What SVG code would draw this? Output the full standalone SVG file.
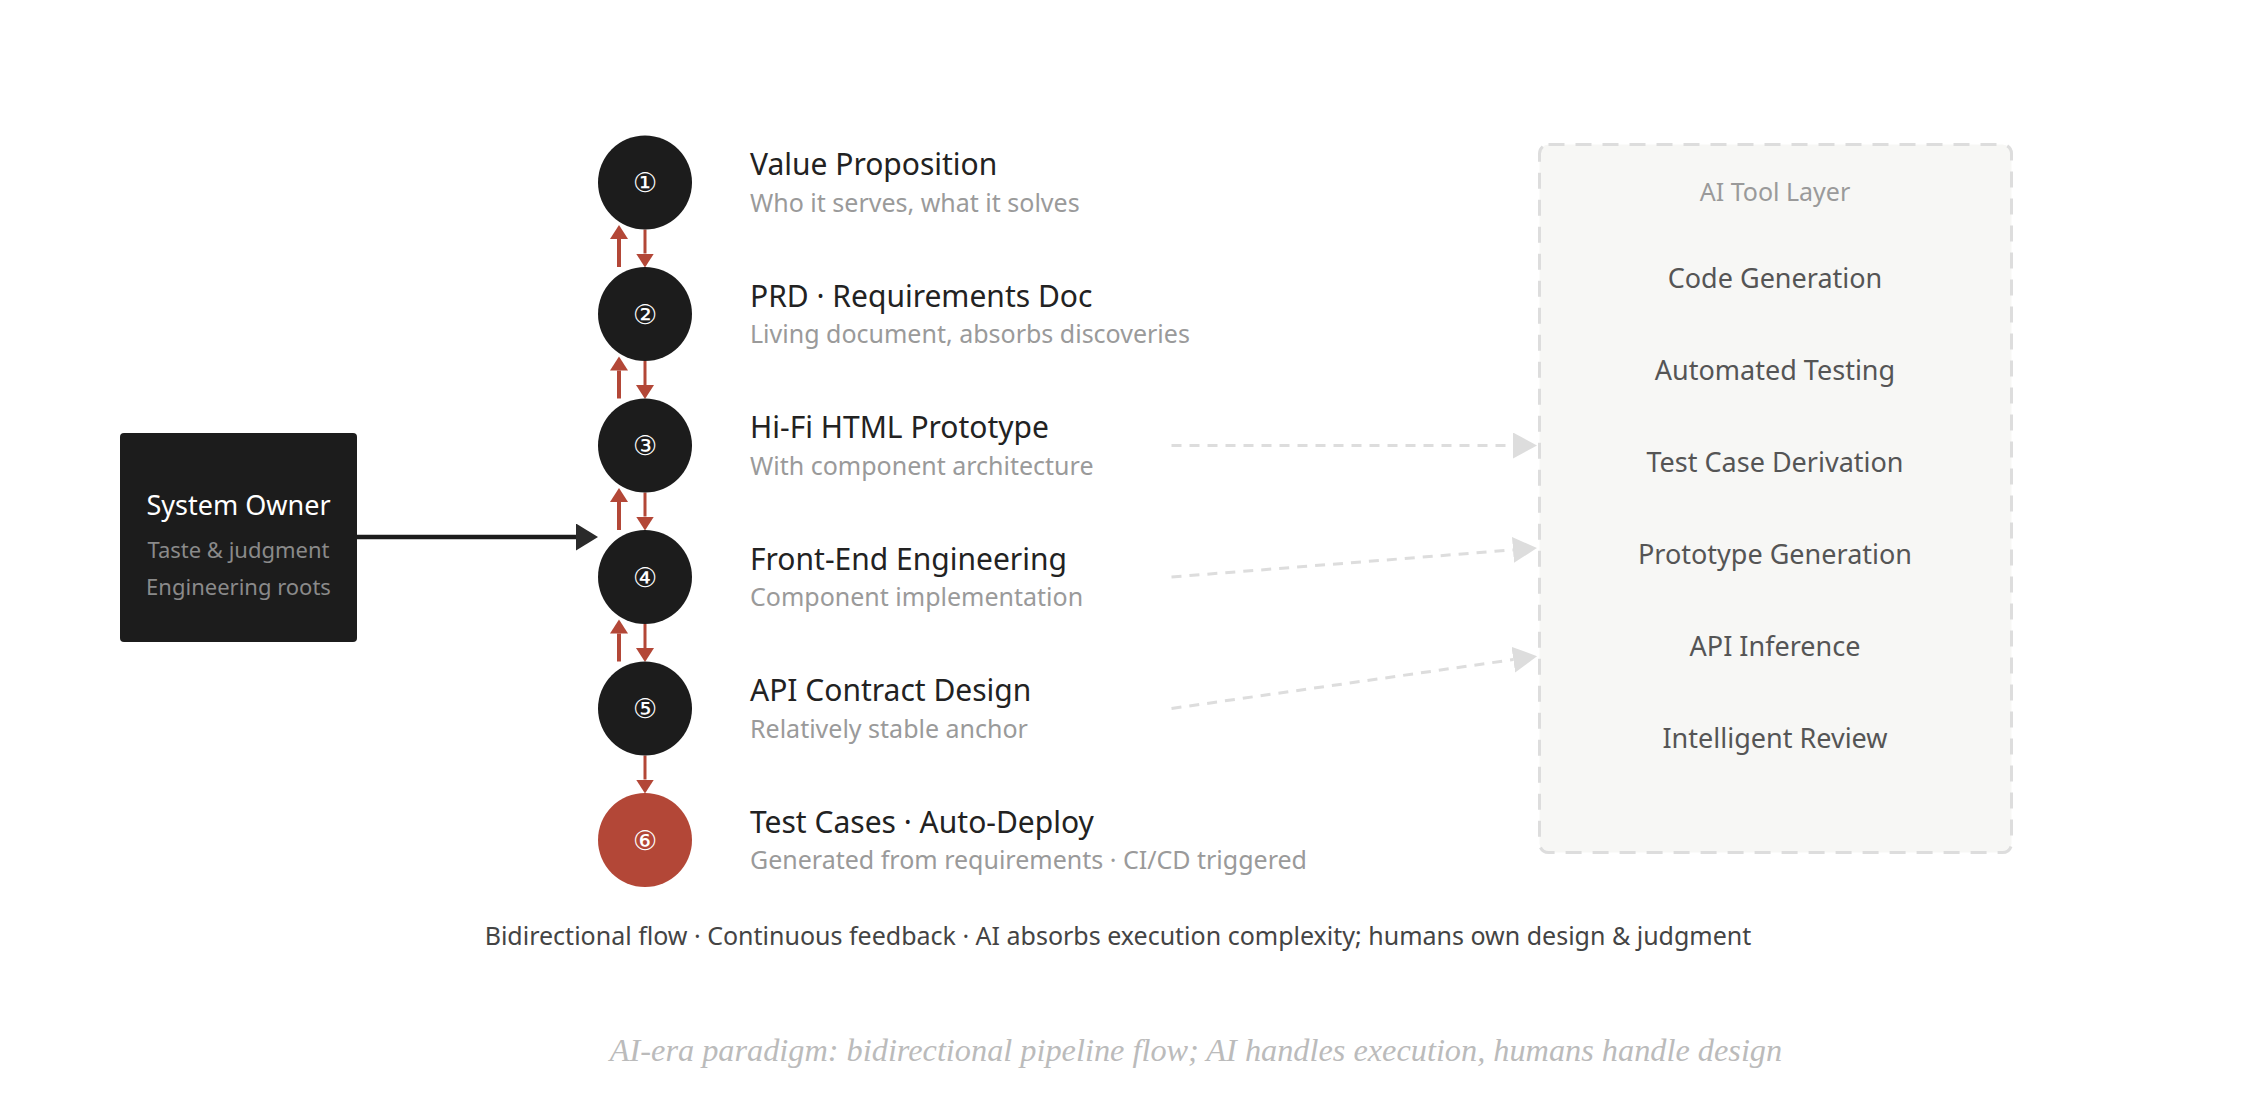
<svg xmlns="http://www.w3.org/2000/svg" width="2254" height="1114" viewBox="0 0 2254 1114">
<defs>
<style>
.title{font-family:"Noto Sans","Open Sans",sans-serif;font-size:30px;fill:#222}
.sub{font-family:"Noto Sans","Open Sans",sans-serif;font-size:25px;fill:#9a9a9a}
.num{font-family:"DejaVu Sans",sans-serif;font-size:27px;fill:#fff;text-anchor:middle}
.circ{fill:#1c1c1c}
.ai{font-family:"Noto Sans","Open Sans",sans-serif;font-size:27px;fill:#555;text-anchor:middle}
.red{stroke:#b34737;fill:none}
.dash{stroke:#dddddd;stroke-width:3;stroke-dasharray:10 8;fill:none}
</style>
<marker id="redHead" markerUnits="userSpaceOnUse" markerWidth="16" markerHeight="20" refX="0" refY="9" orient="auto" viewBox="0 0 16 20">
<path d="M0,0 L14,9 L0,18 z" fill="#b34737"/>
</marker>
<marker id="blackHead" markerUnits="userSpaceOnUse" markerWidth="24" markerHeight="28" refX="0" refY="13.5" orient="auto" viewBox="0 0 24 28">
<path d="M0,0 L22,13.5 L0,27 z" fill="#2a2a2a"/>
</marker>
<marker id="grayHead" markerUnits="userSpaceOnUse" markerWidth="26" markerHeight="28" refX="0" refY="13" orient="auto" viewBox="0 0 26 28">
<path d="M0,0 L24,13 L0,26 z" fill="#dddddd"/>
</marker>
</defs>
<rect width="2254" height="1114" fill="#ffffff"/>

<g id="ai-tool-layer">
<rect x="1539.5" y="144.5" width="472" height="708" rx="9" fill="#f7f7f5" stroke="#dddddd" stroke-width="3" stroke-dasharray="16 11"/>
<text x="1775" y="201" font-family="Noto Sans, sans-serif" font-size="25" fill="#9a9a9a" text-anchor="middle">AI Tool Layer</text>
<text class="ai" x="1775" y="288">Code Generation</text>
<text class="ai" x="1775" y="380">Automated Testing</text>
<text class="ai" x="1775" y="472">Test Case Derivation</text>
<text class="ai" x="1775" y="564">Prototype Generation</text>
<text class="ai" x="1775" y="656">API Inference</text>
<text class="ai" x="1775" y="748">Intelligent Review</text>
</g>

<g id="connectors">
<line x1="357" y1="537" x2="576" y2="537" stroke="#1c1c1c" stroke-width="4.5" marker-end="url(#blackHead)"/>
<line class="red" stroke-width="3" x1="645" y1="229.5" x2="645" y2="253.5" marker-end="url(#redHead)"/>
<line class="red" stroke-width="4" x1="619" y1="267" x2="619" y2="239" marker-end="url(#redHead)"/>
<line class="red" stroke-width="3" x1="645" y1="361" x2="645" y2="385" marker-end="url(#redHead)"/>
<line class="red" stroke-width="4" x1="619" y1="398.5" x2="619" y2="370.5" marker-end="url(#redHead)"/>
<line class="red" stroke-width="3" x1="645" y1="492.5" x2="645" y2="516.5" marker-end="url(#redHead)"/>
<line class="red" stroke-width="4" x1="619" y1="530" x2="619" y2="502" marker-end="url(#redHead)"/>
<line class="red" stroke-width="3" x1="645" y1="624" x2="645" y2="648" marker-end="url(#redHead)"/>
<line class="red" stroke-width="4" x1="619" y1="661.5" x2="619" y2="633.5" marker-end="url(#redHead)"/>
<line class="red" stroke-width="3" x1="645" y1="755.5" x2="645" y2="779.5" marker-end="url(#redHead)"/>
<line class="dash" x1="1171.5" y1="445.5" x2="1513" y2="445.5" marker-end="url(#grayHead)"/>
<line class="dash" x1="1171.5" y1="577" x2="1513" y2="549.9" marker-end="url(#grayHead)"/>
<line class="dash" x1="1171.5" y1="708.5" x2="1513.3" y2="659.6" marker-end="url(#grayHead)"/>
</g>

<g id="system-owner">
<rect x="120" y="433" width="237" height="209" rx="4" fill="#1c1c1c"/>
<text x="238.5" y="515" font-family="Noto Sans, sans-serif" font-size="27" fill="#ffffff" text-anchor="middle">System Owner</text>
<text x="238.5" y="558" font-family="Noto Sans, sans-serif" font-size="22" fill="#8a8a8a" text-anchor="middle">Taste &amp; judgment</text>
<text x="238.5" y="595" font-family="Noto Sans, sans-serif" font-size="22" fill="#8a8a8a" text-anchor="middle">Engineering roots</text>
</g>

<g id="step-1">
<circle class="circ" cx="645" cy="182.5" r="47"/>
<text class="num" x="645" y="182.5" dominant-baseline="central">①</text>
<text class="title" x="750" y="175">Value Proposition</text>
<text class="sub" x="750" y="211.5">Who it serves, what it solves</text>
</g>
<g id="step-2">
<circle class="circ" cx="645" cy="314" r="47"/>
<text class="num" x="645" y="314" dominant-baseline="central">②</text>
<text class="title" x="750" y="306.5">PRD · Requirements Doc</text>
<text class="sub" x="750" y="343">Living document, absorbs discoveries</text>
</g>
<g id="step-3">
<circle class="circ" cx="645" cy="445.5" r="47"/>
<text class="num" x="645" y="445.5" dominant-baseline="central">③</text>
<text class="title" x="750" y="438">Hi-Fi HTML Prototype</text>
<text class="sub" x="750" y="474.5">With component architecture</text>
</g>
<g id="step-4">
<circle class="circ" cx="645" cy="577" r="47"/>
<text class="num" x="645" y="577" dominant-baseline="central">④</text>
<text class="title" x="750" y="569.5">Front-End Engineering</text>
<text class="sub" x="750" y="606">Component implementation</text>
</g>
<g id="step-5">
<circle class="circ" cx="645" cy="708.5" r="47"/>
<text class="num" x="645" y="708.5" dominant-baseline="central">⑤</text>
<text class="title" x="750" y="701">API Contract Design</text>
<text class="sub" x="750" y="737.5">Relatively stable anchor</text>
</g>
<g id="step-6">
<circle cx="645" cy="840" r="47" fill="#b34737"/>
<text class="num" x="645" y="840" dominant-baseline="central">⑥</text>
<text class="title" x="750" y="832.5">Test Cases · Auto-Deploy</text>
<text class="sub" x="750" y="869">Generated from requirements · CI/CD triggered</text>
</g>

<text x="1118" y="945" font-family="Noto Sans, sans-serif" font-size="25" fill="#444" text-anchor="middle">Bidirectional flow · Continuous feedback · AI absorbs execution complexity; humans own design &amp; judgment</text>
<text x="1196" y="1061" font-family="Liberation Serif, serif" font-style="italic" font-size="32.3" fill="#bbbbbb" text-anchor="middle">AI-era paradigm: bidirectional pipeline flow; AI handles execution, humans handle design</text>
</svg>
